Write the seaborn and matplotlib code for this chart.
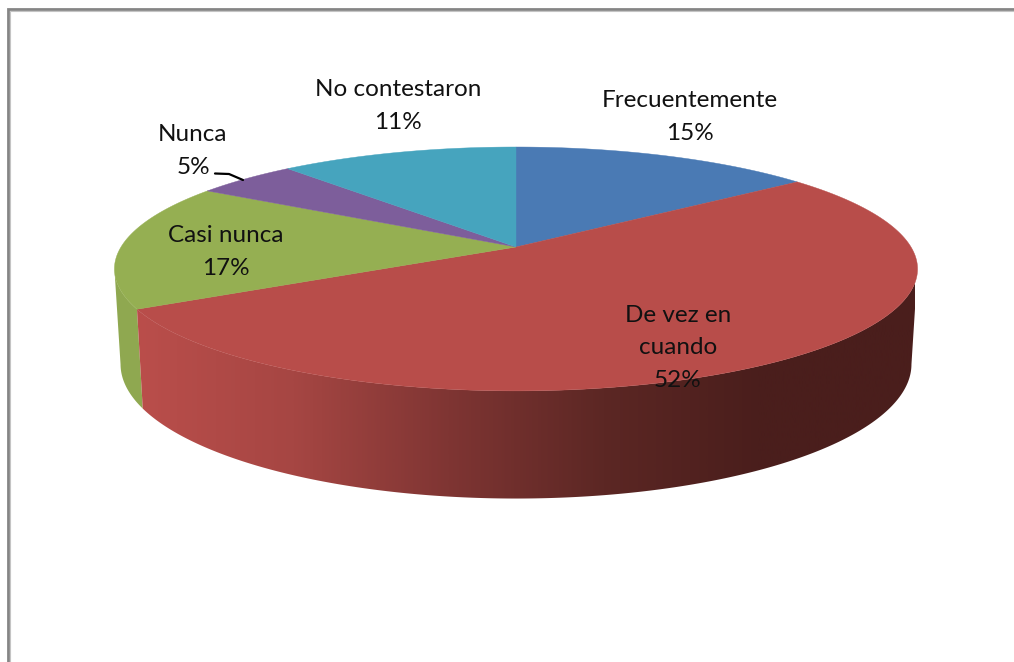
import numpy as np
import matplotlib
matplotlib.use("Agg")
import matplotlib.pyplot as plt
from matplotlib.colors import LinearSegmentedColormap
from matplotlib.patches import Polygon
import seaborn as sns

categories = ["Frecuentemente", "De vez en\ncuando", "Casi nunca", "Nunca", "No contestaron"]
values = [14.51, 52.49, 16.7, 4.9, 11.4]
colors = ["#4A7AB4", "#B84D4A", "#95AF52", "#7D5E9B", "#46A4BE"]
wall_red = ["#BA4E4B", "#A64643", "#7F3533", "#5C2724", "#4A1E1C", "#4A1E1C"]
wall_green = "#8FA850"
label_x = [690, 678, 226, 193, 398]
label_y = [117, 348, 252, 151, 106]

sns.set_theme(style="white")
plt.rcParams["font.family"] = ["Lato", "DejaVu Sans"]
palette = sns.color_palette(colors)

fig = plt.figure(figsize=(10.14, 6.62), dpi=100, facecolor="white")
ax = fig.add_axes([0, 0, 1, 1])
ax.set_xlim(0, 1014)
ax.set_ylim(662, 0)
ax.axis("off")

K = 0.18
CX = 516


def top(theta):
    x, y = np.sin(theta), np.cos(theta)
    d = 1 + K * y
    return np.c_[CX + 395 * x / d, 247 - 118 * y / d]


def bottom(theta):
    x, y = np.sin(theta), np.cos(theta)
    d = 1 + K * y
    return np.c_[CX + 389 * x / d, 340 - 130 * y / d]


edges = np.radians(np.r_[0, np.cumsum(values)] / sum(values) * 360)
limit_r = np.arccos(-K)
limit_l = 2 * np.pi - limit_r

# visible wall: green part, then red part with a horizontal gradient
th = np.linspace(edges[2], limit_l, 60)
ax.add_patch(Polygon(np.r_[top(th), bottom(th[::-1])], closed=True,
                     facecolor=wall_green, edgecolor="none", zorder=1))
th = np.linspace(limit_r, edges[2], 240)
wall = Polygon(np.r_[top(th), bottom(th[::-1])], closed=True,
               facecolor="none", edgecolor="none", zorder=2)
ax.add_patch(wall)
cmap = LinearSegmentedColormap.from_list("wall", wall_red)
img = ax.imshow(np.linspace(0, 1, 512)[None, :], cmap=cmap, aspect="auto",
                extent=(137, 915, 662, 0), zorder=2)
img.set_clip_path(wall)
ax.set_xlim(0, 1014)
ax.set_ylim(662, 0)

# top face
centre = np.array([[CX, 247.0]])
for i, c in enumerate(palette):
    th = np.linspace(edges[i], edges[i + 1], 200)
    ax.add_patch(Polygon(np.r_[centre, top(th)], closed=True, facecolor=c,
                         edgecolor=c, linewidth=0.3, zorder=3))

# labels
for name, v, x, y in zip(categories, values, label_x, label_y):
    ax.text(x, y, f"{name}\n{v:.0f}%", ha="center", va="center", fontsize=17.5,
            color="#111111", linespacing=1.66, zorder=5)
ax.plot([215, 229, 243], [173.5, 174, 180], color="black", lw=1.6, zorder=4)

# frame
ax.plot([8, 8, 1014], [662, 9, 9], color="#858585", lw=2.0, solid_joinstyle="miter",
        solid_capstyle="butt", zorder=6)
ax.plot([9.7, 9.7, 1014], [662, 10.7, 10.7], color="#C4C4C4", lw=0.8,
        solid_joinstyle="miter", solid_capstyle="butt", zorder=6)

fig.savefig("out.png", dpi=100, facecolor="white")
